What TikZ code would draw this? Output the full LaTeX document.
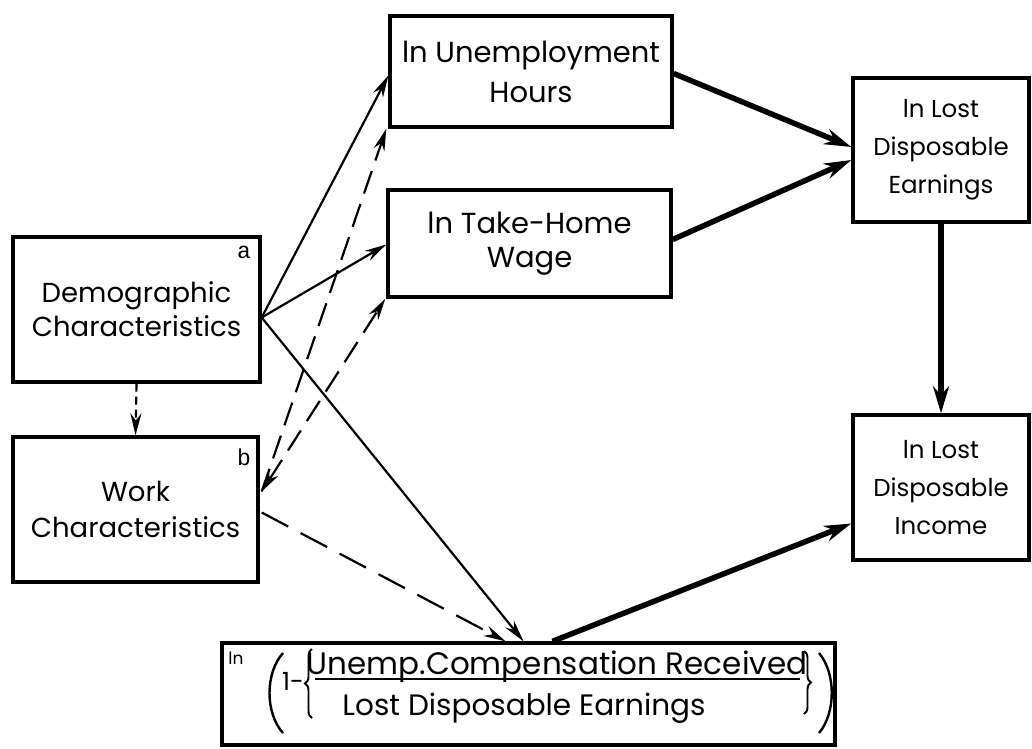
\documentclass[tikz,border=0pt]{standalone}
\usepackage{fontspec}
\setmainfont{Poppins}
\newfontfamily\tagfont{Liberation Mono}
\usetikzlibrary{arrows.meta,calc,decorations.pathreplacing}
\newcommand{\fs}[2]{\fontsize{#1}{#2}\selectfont}
\begin{document}
\begin{tikzpicture}[x=1pt,y=-1pt,
  box/.style={draw,line width=3.4pt,inner sep=0pt,align=center},
  thin/.style={line width=2.2pt,-{Stealth[length=22pt,width=11pt]}},
  dsh/.style={thin,dash pattern=on 24pt off 11pt},
  thick/.style={line width=5.5pt,-{Stealth[length=27pt,width=16pt]}},
  delim/.style={line width=2.4pt},
  curly/.style={line width=1.9pt,decorate,decoration={brace,amplitude=7pt}},
  term/.style={inner sep=0pt,anchor=base},
  tag/.style={font=\tagfont\fs{23}{23},inner sep=0pt}]
\useasboundingbox (0,0) rectangle (1032,748);

% boxes
\node[box,minimum width=247pt,minimum height=145pt,font=\fs{27.5}{34}] (demo)
  at (136.5,309.5) {Demographic\\Characteristics};
\node[box,minimum width=245pt,minimum height=145pt,font=\fs{27.5}{36}] (work)
  at (135.5,509.5) {Work\\Characteristics};
\node[box,minimum width=282pt,minimum height=111pt,font=\fs{29}{40}] (uh)
  at (531,71.5) {ln Unemployment\\Hours};
\node[box,minimum width=283pt,minimum height=107pt,font=\fs{29}{34}] (th)
  at (529.5,243.5) {ln Take-Home\\Wage};
\node[box,minimum width=176pt,minimum height=144pt,font=\fs{24.5}{38}] (lde)
  at (941,150) {ln Lost\\Disposable\\Earnings};
\node[box,minimum width=176pt,minimum height=145pt,font=\fs{24.5}{38}] (ldi)
  at (941,487.5) {ln Lost\\Disposable\\Income};
\node[box,minimum width=613pt,minimum height=102pt] (ratio) at (528.5,694) {};

% the ratio term inside the bottom box
\node[term,font=\fs{17}{17}] (lnlbl) at (236,664) {ln};
\draw[delim] (283,653) .. controls (265,673) and (265,713) .. (283,733);
\node[term,font=\fs{25}{25}] (one) at (293,690) {1-};
\draw[curly] (312,718) -- (312,649);
\node[term,font=\fs{31}{31}] (num) at (557,674) {Unemp.Compensation Received};
\node[term,font=\fs{29.5}{29.5}] (den) at (524,715) {Lost Disposable Earnings};
\draw[line width=1.8pt] (315,679) -- (800,679);
\draw[curly] (804,651) -- (804,714);
\draw[delim] (819,653) .. controls (836,673) and (836,713) .. (819,733);

% corner letters
\node[tag,anchor=north east] (taga) at (251,246) {a};
\node[tag,anchor=north east] (tagb) at (251,449) {b};

% paths from the characteristics
\coordinate (dsrc) at ([yshift=-8pt]demo.east);
\draw[thin] (dsrc) -- ([yshift=-4pt]uh.west);
\draw[thin] (dsrc) -- ([yshift=-1pt]th.west);
\draw[thin] (dsrc) -- ([xshift=-5pt]ratio.north);
\draw[thin,dash pattern=on 8pt off 5pt] (demo.south) -- (work.north);
\coordinate (wsrc) at ([xshift=2pt,yshift=18pt]work.east);
\draw[dsh] (wsrc) -- ([xshift=-2pt]uh.south west);
\draw[dsh,{Stealth[length=22pt,width=11pt]}-{Stealth[length=22pt,width=11pt]}]
  (wsrc) -- ([xshift=-1pt]th.south west);
\draw[dsh,dash pattern=on 30pt off 14pt]
  ([xshift=2pt,yshift=-3pt]work.east) -- ([xshift=-23pt]ratio.north);

% paths to the loss measures
\draw[thick] ([yshift=-2pt]uh.east) -- ([yshift=3pt]lde.west);
\draw[thick] ([yshift=4pt]th.east) -- ([yshift=-10pt]lde.west);
\draw[thick] (lde.south) -- (ldi.north);
\draw[thick] ([xshift=24pt]ratio.north) -- ([yshift=-36pt]ldi.west);
\end{tikzpicture}
\end{document}
